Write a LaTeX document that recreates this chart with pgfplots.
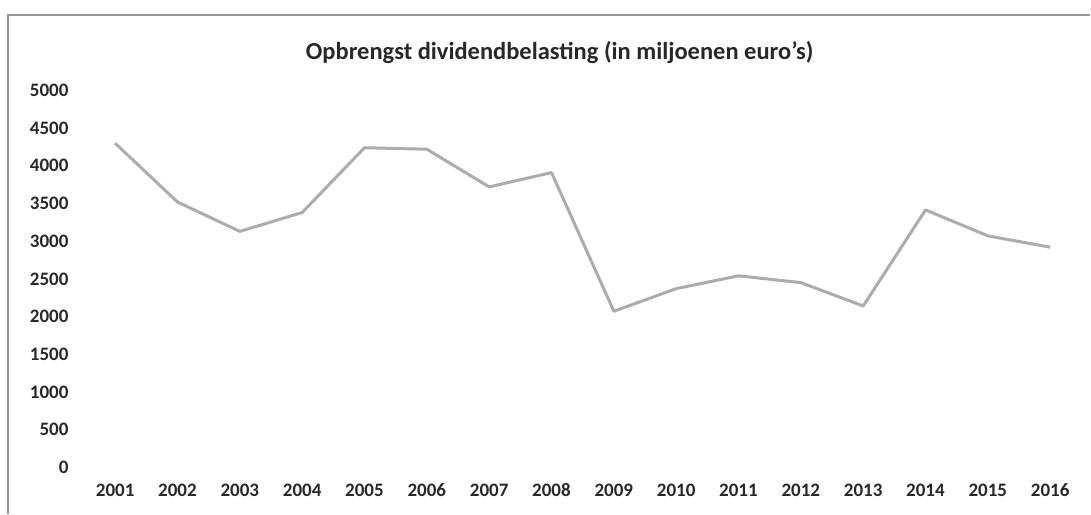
\documentclass[border=0pt]{standalone}
\usepackage{fontspec}
\setmainfont{Carlito}
\usepackage{pgfplots}
\pgfplotsset{compat=1.18}
\definecolor{linegray}{RGB}{172,172,172}
\definecolor{txt}{RGB}{40,40,40}
\definecolor{frame}{RGB}{150,150,150}
\begin{document}
\begin{tikzpicture}[x=1pt,y=1pt]
\fill[white] (0,0) rectangle (1091,514);
\draw[frame,line width=1.2pt] (8,0) -- (8,499) -- (1091,499);
\node[font=\bfseries\fontsize{24.5}{27}\selectfont,text=txt] at (560,461) {Opbrengst dividendbelasting (in miljoenen euro's)};
\begin{axis}[
  at={(84pt,46.5pt)}, anchor=south west,
  scale only axis, width=998pt, height=377pt,
  xmin=2000.5, xmax=2016.5, ymin=0, ymax=5000,
  axis x line*=bottom, axis y line*=left,
  axis line style={draw=none},
  xtick={2001,...,2016}, ytick={0,500,...,5000},
  /pgf/number format/assume math mode=true,
  /pgf/number format/set thousands separator={},
  xticklabel style={font=\bfseries\fontsize{19}{20}\selectfont, text=txt, anchor=north, yshift=-13pt},
  yticklabel style={font=\bfseries\fontsize{19}{20}\selectfont, text=txt, anchor=east, xshift=-12pt},
  major tick length=0pt,
  tick style={draw=none},
  clip=false,
]
\addplot[linegray, line width=3pt, line join=round] coordinates {
(2001,4300) (2002,3520) (2003,3130) (2004,3380) (2005,4240) (2006,4220)
(2007,3720) (2008,3910) (2009,2070) (2010,2370) (2011,2540) (2012,2450)
(2013,2140) (2014,3415) (2015,3070) (2016,2920)
};
\end{axis}
\end{tikzpicture}
\end{document}
